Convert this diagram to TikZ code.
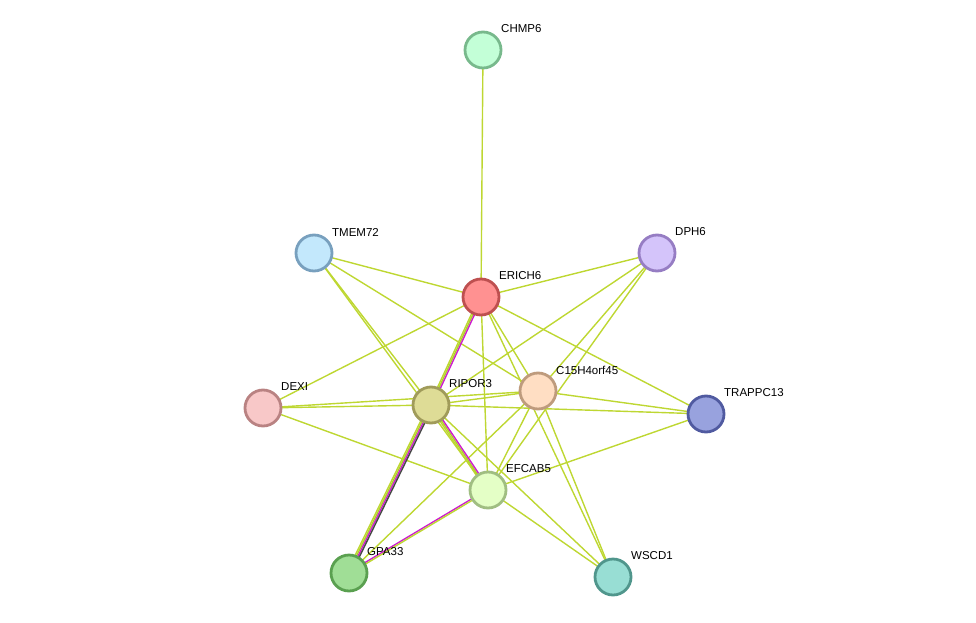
\documentclass[tikz,border=0pt]{standalone}
\usepackage{fontspec}
\setmainfont{Liberation Sans}
\usetikzlibrary{calc,backgrounds}
\definecolor{tmcol}{RGB}{190,215,50}
\definecolor{tmcolb}{RGB}{175,210,40}
\definecolor{expcol}{RGB}{205,30,205}
\definecolor{coexpcol}{RGB}{70,70,70}
\tikzset{
  prot/.style={circle,minimum size=36pt,inner sep=0pt,line width=2.8pt},
  lab/.style={anchor=west,font=\fontsize{11.5}{13}\selectfont,inner sep=0pt},
  tm/.style={draw=tmcol,line width=1.4pt},
  tmb/.style={draw=tmcolb,line width=1.4pt},
  expe/.style={draw=expcol,line width=1.4pt},
  coexp/.style={draw=coexpcol,line width=1.4pt},
}
\newcommand{\protnode}[6]{%
  \definecolor{fill#1}{RGB}{#4}\definecolor{brd#1}{RGB}{#5}%
  \node[prot,fill=fill#1,draw=brd#1] (#1) at (#2,#3) {};
  \node[lab] (#1lab) at (#2+18,#3-21) {#6};}
\newcommand{\multiedge}[3]{%
  \foreach \o/\c in {#3}
    \draw[\c] ($(#1.center)!\o pt!90:(#2.center)$) -- ($(#2.center)!\o pt!-90:(#1.center)$);}
\begin{document}
\begin{tikzpicture}[x=1pt,y=-1pt]
\useasboundingbox (0,0) rectangle (976,623);
\protnode{CHMP6}{483}{50}{195,255,215}{120,185,140}{CHMP6}
\protnode{TMEM72}{314}{253}{195,232,252}{120,160,190}{TMEM72}
\protnode{DPH6}{657}{253}{212,196,250}{150,125,195}{DPH6}
\protnode{ERICH6}{481}{297}{255,145,145}{190,80,80}{ERICH6}
\protnode{DEXI}{263}{408}{248,200,200}{185,130,130}{DEXI}
\protnode{RIPOR3}{431}{405}{222,220,150}{160,155,90}{RIPOR3}
\protnode{C15}{538}{391}{255,222,195}{190,155,125}{C15H4orf45}
\protnode{TRAPPC13}{706}{414}{152,162,222}{80,90,160}{TRAPPC13}
\protnode{EFCAB5}{488}{490}{228,255,198}{160,190,130}{EFCAB5}
\protnode{GPA33}{349}{573}{160,222,150}{90,160,80}{GPA33}
\protnode{WSCD1}{613}{577}{152,222,212}{80,150,140}{WSCD1}
\begin{scope}[on background layer]
\foreach \a/\b in {CHMP6/ERICH6,TMEM72/ERICH6,TMEM72/C15,TMEM72/RIPOR3,TMEM72/EFCAB5,
  DPH6/ERICH6,DPH6/RIPOR3,DPH6/C15,DPH6/EFCAB5,
  ERICH6/DEXI,ERICH6/C15,ERICH6/EFCAB5,ERICH6/WSCD1,ERICH6/TRAPPC13,
  DEXI/RIPOR3,DEXI/C15,DEXI/EFCAB5,
  RIPOR3/C15,RIPOR3/TRAPPC13,RIPOR3/WSCD1,
  C15/TRAPPC13,C15/WSCD1,C15/EFCAB5,C15/GPA33,
  TRAPPC13/EFCAB5,EFCAB5/WSCD1}
  \draw[tm] (\a.center) -- (\b.center);
\multiedge{ERICH6}{RIPOR3}{-1.5/tm,0/tmb,1.5/expe}
\multiedge{RIPOR3}{GPA33}{-2.25/tm,-0.75/tmb,0.75/expe,2.25/coexp}
\multiedge{RIPOR3}{EFCAB5}{-1.5/tm,0/tmb,1.5/expe}
\multiedge{EFCAB5}{GPA33}{-0.75/expe,0.75/tm}
\end{scope}
\end{tikzpicture}
\end{document}
